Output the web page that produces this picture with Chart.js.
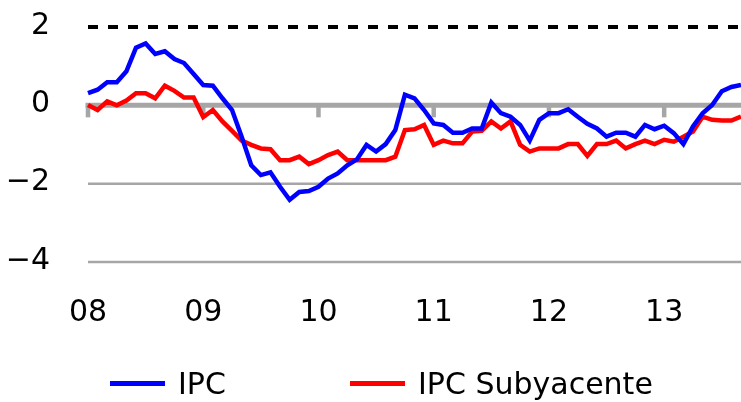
<!DOCTYPE html>
<html>
<head>
<meta charset="utf-8">
<script src="https://cdn.jsdelivr.net/npm/chart.js@4/dist/chart.umd.min.js"></script>
<style>
    html, body { margin: 0; padding: 0; background: #fff; }
    #wrap { position: relative; width: 741px; height: 402px; }
    #legenda { position: absolute; left: 0; top: 366px; width: 741px; height: 34px; font: 30px "DejaVu Sans"; color: #000; }
    .item { position: absolute; top: 0; height: 34px; display: flex; align-items: center; white-space: nowrap; }
    .traco { width: 55px; height: 5px; margin-right: 13px; }
</style>
</head>
<body>
<div id="wrap">
    <canvas id="grafico_ipc" width="741" height="402"></canvas>
    <div id="legenda"></div>
</div>
<script>
// anos (rótulos do eixo x), um a cada 12 meses a partir de jan/2008
const anos = ['08', '09', '10', '11', '12', '13'];
const ultimoMes = 9; // set/2013

// variação anual, jan/2008 .. set/2013
const ipc = [
    0.31, 0.40, 0.59, 0.59, 0.87, 1.47, 1.58, 1.31, 1.38, 1.18, 1.08, 0.80,
    0.52, 0.50, 0.18, -0.12, -0.80, -1.53, -1.78, -1.71, -2.08, -2.41, -2.21, -2.19,
    -2.08, -1.87, -1.74, -1.53, -1.38, -1.01, -1.18, -0.99, -0.63, 0.27, 0.18, -0.12,
    -0.46, -0.50, -0.70, -0.70, -0.59, -0.59, 0.07, -0.20, -0.29, -0.50, -0.90, -0.37,
    -0.20, -0.20, -0.10, -0.29, -0.47, -0.59, -0.80, -0.70, -0.70, -0.80, -0.50, -0.61,
    -0.52, -0.71, -0.99, -0.54, -0.20, 0.01, 0.36, 0.47, 0.52
];
const ipcSubyacente = [
    0.01, -0.12, 0.10, 0.00, 0.12, 0.31, 0.31, 0.18, 0.50, 0.37, 0.20, 0.20,
    -0.30, -0.12, -0.41, -0.65, -0.90, -1.01, -1.10, -1.12, -1.40, -1.40, -1.31, -1.50,
    -1.40, -1.27, -1.18, -1.40, -1.40, -1.40, -1.40, -1.40, -1.31, -0.63, -0.61, -0.50,
    -1.01, -0.90, -0.97, -0.97, -0.67, -0.65, -0.41, -0.59, -0.41, -1.01, -1.18, -1.10,
    -1.10, -1.10, -0.99, -0.99, -1.29, -0.99, -0.99, -0.90, -1.10, -0.99, -0.90, -0.99,
    -0.88, -0.93, -0.80, -0.67, -0.29, -0.37, -0.39, -0.39, -0.29
];
const yTicks = [-4, -2, 0, 2];

const meses = [];
anos.forEach(function (a, k) {
    const n = (k === anos.length - 1) ? ultimoMes : 12;
    for (let m = 1; m <= n; m++) meses.push(String(m).padStart(2, '0') + '/' + a);
});

// linhas de referência: grade cinza, zero grosso com marcas anuais, 2 tracejado
const linhasRef = {
    id: 'linhasRef',
    beforeDatasetsDraw(chart) {
        const { ctx, chartArea, scales } = chart;
        const x = scales.x, y = scales.y;
        ctx.save();
        ctx.strokeStyle = '#a6a6a6';
        ctx.lineWidth = 2.5;
        [-4, -2].forEach(function (v) {
            const py = y.getPixelForValue(v);
            ctx.beginPath(); ctx.moveTo(chartArea.left, py); ctx.lineTo(chartArea.right, py); ctx.stroke();
        });
        const y0 = y.getPixelForValue(0);
        ctx.lineWidth = 5;
        ctx.beginPath(); ctx.moveTo(chartArea.left - 2.5, y0); ctx.lineTo(chartArea.right, y0); ctx.stroke();
        ctx.lineWidth = 4.5;
        for (let i = 0; i < meses.length; i += 12) {
            const px = x.getPixelForValue(i);
            ctx.beginPath(); ctx.moveTo(px, y0); ctx.lineTo(px, y0 + 12); ctx.stroke();
        }
        const y2 = y.getPixelForValue(2);
        ctx.strokeStyle = '#000';
        ctx.lineWidth = 4;
        ctx.setLineDash([10, 10]);
        ctx.beginPath(); ctx.moveTo(chartArea.left, y2); ctx.lineTo(chartArea.right, y2); ctx.stroke();
        ctx.restore();
    }
};

const fonte = { family: 'DejaVu Sans', size: 30 };

const ctx = document.getElementById('grafico_ipc').getContext('2d');
const grafico = new Chart(ctx, {
    type: 'line',
    data: {
        labels: meses,
        datasets: [{
            label: 'IPC',
            data: ipc,
            borderColor: '#0000ff',
            backgroundColor: '#0000ff',
            borderWidth: 4.5,
            pointRadius: 0,
            tension: 0,
            fill: false
        }, {
            label: 'IPC Subyacente',
            data: ipcSubyacente,
            borderColor: '#ff0000',
            backgroundColor: '#ff0000',
            borderWidth: 4.5,
            pointRadius: 0,
            tension: 0,
            fill: false
        }]
    },
    options: {
        responsive: false,
        animation: false,
        layout: { padding: { top: 27, right: 0, bottom: 0, left: 0 } },
        plugins: {
            legend: { display: false },
            tooltip: { enabled: false }
        },
        scales: {
            x: {
                type: 'category',
                offset: false,
                grid: { display: false, drawTicks: false },
                border: { display: false },
                ticks: {
                    autoSkip: false,
                    maxRotation: 0,
                    padding: 33,
                    color: '#000',
                    font: fonte,
                    callback: function (v, i) { return i % 12 === 0 ? anos[i / 12] : null; }
                },
                afterFit: function (s) { s.height = 140; }
            },
            y: {
                min: -4,
                max: 2,
                grid: { display: false, drawTicks: false },
                border: { display: false },
                afterBuildTicks: function (s) { s.ticks = yTicks.map(function (v) { return { value: v }; }); },
                ticks: {
                    padding: 38,
                    labelOffset: -1,
                    color: '#000',
                    font: fonte,
                    callback: function (v) { return v < 0 ? '\u2212' + Math.abs(v) : String(v); }
                },
                afterFit: function (s) {
                    s.width = 88;
                    s.paddingTop = 0;
                    s.paddingBottom = 0;
                }
            }
        }
    },
    plugins: [linhasRef]
});

// legenda em html, abaixo do eixo
const legenda = document.getElementById('legenda');
[[110, 0], [350, 1]].forEach(function (p) {
    const d = grafico.data.datasets[p[1]];
    const item = document.createElement('div');
    item.className = 'item';
    item.style.left = p[0] + 'px';
    item.innerHTML = '<span class="traco" style="background:' + d.borderColor + '"></span><span>' + d.label + '</span>';
    legenda.appendChild(item);
});
</script>
</body>
</html>
